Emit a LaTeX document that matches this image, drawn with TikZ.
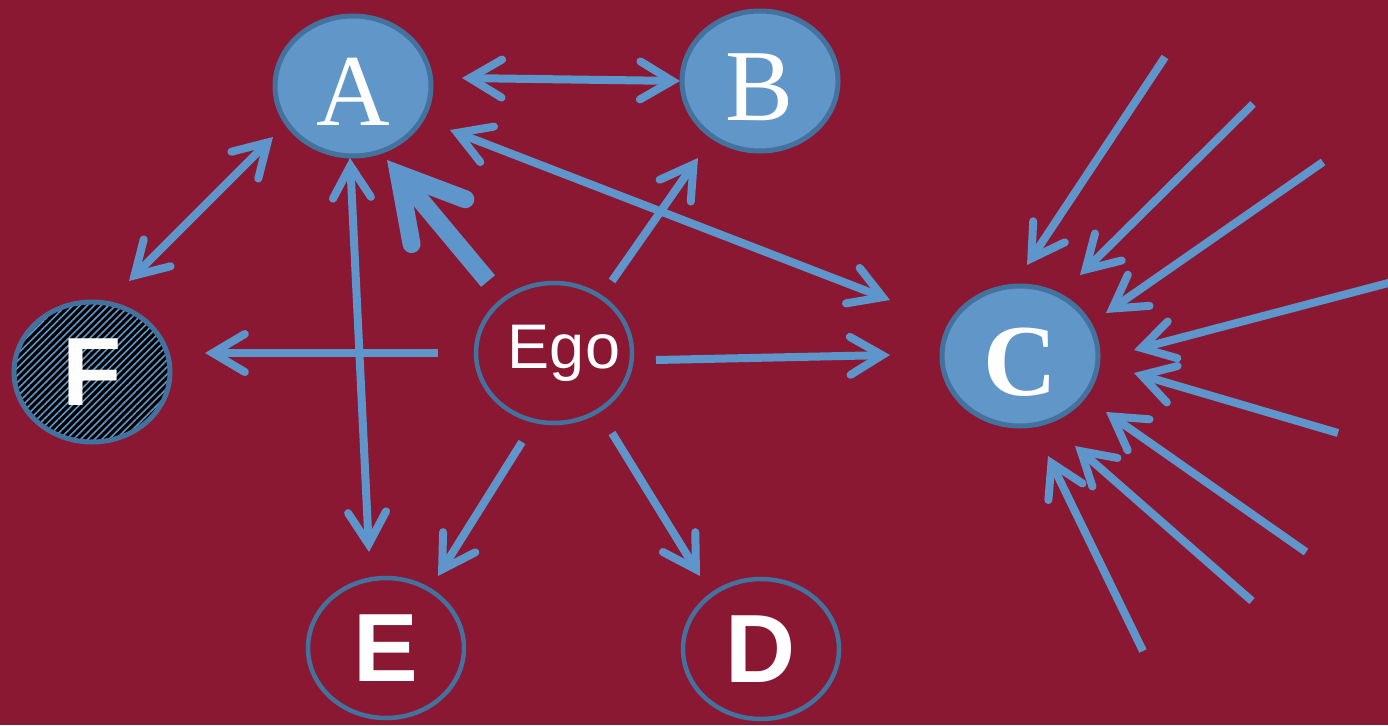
\documentclass[tikz,border=0pt]{standalone}
\usepackage{fontspec}
\setmainfont{Liberation Serif}
\newfontfamily\sansf{Liberation Sans}
\usetikzlibrary{shapes.geometric,arrows.meta,patterns.meta}
\definecolor{bgred}{HTML}{8B1833}
\definecolor{nodeblue}{HTML}{6096C8}
\definecolor{edgeblue}{HTML}{44729E}
\definecolor{arrowblue}{HTML}{5E95CB}
\begin{document}
\begin{tikzpicture}[x=1pt,y=-1pt,
  >={Straight Barb[length=32pt,width=38pt,line cap=round]},
  arr/.style={draw=arrowblue, line width=8pt, ->},
  arrboth/.style={draw=arrowblue, line width=8pt, <->},
  arrthick/.style={draw=arrowblue, line width=18pt, -{Straight Barb[length=62pt,width=70pt,line cap=round]}},
  basenode/.style={ellipse, inner sep=0pt, text=white, minimum width=156pt, minimum height=140pt},
  filled/.style={basenode, fill=nodeblue, draw=edgeblue, line width=5pt},
  hollow/.style={basenode, draw=edgeblue, line width=4.5pt},
  hatched/.style={basenode, draw=edgeblue, line width=5pt, preaction={fill=black},
    pattern={Lines[angle=45,distance=5pt,line width=1.6pt]}, pattern color=nodeblue},
  serifletter/.style={font=\fontsize{102pt}{102pt}\selectfont, text height=78pt, text depth=0pt},
  sansletter/.style={font=\sansf\bfseries\fontsize{97pt}{97pt}\selectfont},
]
\useasboundingbox (0,0) rectangle (1388,725);
\fill[bgred] (0,0) rectangle (1388,725);
\clip (0,0) rectangle (1388,725);

% nodes
\node[filled, serifletter] (A) at (353,86) {A};
\node[filled, serifletter] (B) at (760,81) {B};
\node[filled, serifletter, font=\bfseries\fontsize{102pt}{102pt}\selectfont] (C) at (1020,356) {C};
\node[hatched, sansletter] (F) at (92,372) {F};
\node[hollow, font=\sansf\fontsize{63pt}{63pt}\selectfont] (Ego) at (554,353) {\makebox[0pt][c]{\hspace*{20pt}Ego}};
\node[hollow, sansletter] (E) at (386,648) {E};
\node[hollow, sansletter] (D) at (761,649) {D};

% connectors between nodes
\draw[arrboth] ([shift={(109,-8)}]A.center) -- ([shift={(-80,0)}]B.center);
\draw[arrboth] ([shift={(-80,51)}]A.center) -- ([shift={(37,-91)}]F.center);
\draw[arrboth] ([shift={(-3,72)}]A.center) -- ([shift={(-17,-96)}]E.center);
\draw[arrboth] ([shift={(97,44)}]A.center) -- ([shift={(-130,-56)}]C.center);
\draw[arrthick] ([shift={(-66,-72)}]Ego.center) -- ([shift={(34,74)}]A.center);
\draw[arr] ([shift={(58,-72)}]Ego.center) -- ([shift={(-62,77)}]B.center);
\draw[arr] ([shift={(-116,0)}]Ego.center) -- ([shift={(113,-19)}]F.center);
\draw[arr] ([shift={(102,7)}]Ego.center) -- ([shift={(-130,-1)}]C.center);
\draw[arr] ([shift={(-32,89)}]Ego.center) -- ([shift={(52,-72)}]E.center);
\draw[arr] ([shift={(58,80)}]Ego.center) -- ([shift={(-61,-73)}]D.center);

% incoming arrows to C
\coordinate (c1) at (1165,57);
\coordinate (c2) at (1253,104);
\coordinate (c3) at (1323,162);
\coordinate (c4) at (1396,281);
\coordinate (c5) at (1338,433);
\coordinate (c6) at (1306,552);
\coordinate (c7) at (1252,601);
\coordinate (c8) at (1143,651);
\draw[arr] (c1) -- ([shift={(7,-91)}]C.center);
\draw[arr] (c2) -- ([shift={(60,-81)}]C.center);
\draw[arr] (c3) -- ([shift={(86,-43)}]C.center);
\draw[arr] (c4) -- ([shift={(114,-6)}]C.center);
\draw[arr] (c5) -- ([shift={(114,17)}]C.center);
\draw[arr] (c6) -- ([shift={(86,56)}]C.center);
\draw[arr] (c7) -- ([shift={(55,90)}]C.center);
\draw[arr] (c8) -- ([shift={(28,100)}]C.center);
\end{tikzpicture}
\end{document}
